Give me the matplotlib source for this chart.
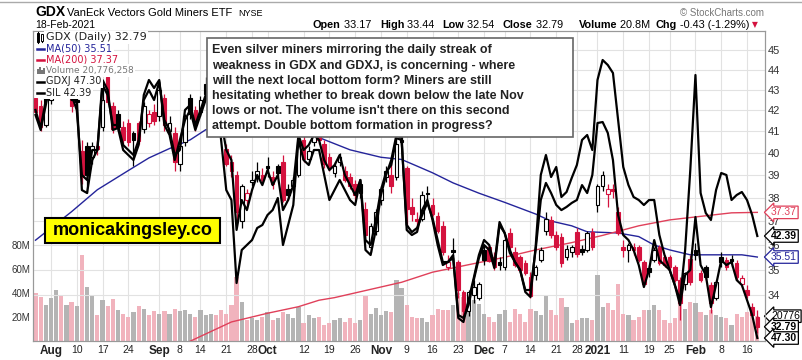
import numpy as np
import pandas as pd
import matplotlib
matplotlib.use("Agg")
import matplotlib.pyplot as plt
from matplotlib.lines import Line2D
from matplotlib.patches import Rectangle
from matplotlib.ticker import FixedLocator, NullLocator
from matplotlib.transforms import blended_transform_factory

plt.rcParams["font.family"] = ["Liberation Sans", "DejaVu Sans"]

W, H = 803, 360

# trading days shown on the chart
holidays = pd.to_datetime(["2020-09-07", "2020-11-26", "2020-12-25",
                           "2021-01-01", "2021-01-18", "2021-02-15"])
dates = pd.bdate_range("2020-07-29", "2021-02-18")
dates = dates[~dates.isin(holidays)]

# GDX daily candles
opens = [
    42.6, 42.2, 41.3, 42.5, 43.7, 45.2, 44.5, 44.6, 42.5, 40.1,
    40.3, 39.8, 40.3, 41.2, 43.6, 42.2, 41.8, 41.2, 41.4, 40.9,
    41.4, 41.1, 41.4, 41.9, 41.7, 42.6, 41.0, 40.9, 39.5, 40.5,
    42.6, 42.0, 41.9, 43.3, 42.9, 43.4, 42.3, 40.2, 39.6, 39.0,
    37.0, 37.9, 38.7, 38.9, 39.0, 39.4, 38.9, 39.4, 39.6, 38.4,
    38.5, 39.0, 40.6, 39.7, 40.5, 41.1, 40.4, 39.8, 39.1, 39.6,
    39.2, 38.9, 38.6, 38.2, 37.5, 35.9, 36.6, 37.9, 38.9, 39.0,
    38.9, 40.5, 39.3, 37.6, 37.1, 37.1, 38.2, 37.7, 37.2, 36.8,
    35.1, 35.8, 35.3, 34.1, 33.4, 34.0, 33.9, 35.8, 35.9, 35.5,
    35.3, 35.1, 36.5, 35.7, 35.5, 35.25, 34.7, 34.8, 35.4, 36.6,
    37.05, 36.4, 36.35, 35.5, 35.7, 36.55, 35.85, 35.8, 36.55, 37.7,
    38.5, 38.15, 38.4, 37.4, 35.9, 35.8, 35.9, 35.9, 35.3, 35.05,
    35.4, 35.9, 35.5, 35.5, 35.1, 34.6, 34.45, 35.45, 35.8, 34.85,
    35.1, 34.4, 33.9, 35.5, 35.4, 35.45, 35.25, 34.45, 34.2, 33.55,
    33.17]
highs = [
    42.8, 42.5, 42.8, 43.8, 45.3, 45.6, 45.4, 44.9, 42.9, 40.6,
    40.5, 40.5, 40.6, 43.5, 43.8, 42.4, 42.0, 41.5, 41.6, 41.0,
    41.5, 42.4, 42.0, 42.3, 43.2, 42.8, 41.7, 41.2, 40.5, 41.8,
    42.8, 42.2, 42.7, 43.6, 43.8, 43.6, 42.5, 40.4, 39.9, 39.2,
    38.6, 38.4, 39.2, 39.6, 39.3, 39.8, 39.2, 39.5, 39.9, 38.6,
    38.9, 40.8, 40.8, 40.3, 41.1, 41.4, 40.6, 40.0, 39.6, 40.0,
    39.4, 39.1, 38.8, 38.8, 37.8, 36.9, 37.5, 38.5, 39.4, 39.6,
    40.7, 41.0, 39.4, 38.0, 37.4, 38.3, 38.5, 38.0, 37.4, 37.0,
    35.6, 36.3, 35.4, 34.2, 34.2, 34.6, 34.5, 36.0, 36.0, 35.7,
    35.5, 36.3, 36.7, 35.9, 35.6, 35.4, 34.9, 35.2, 35.9, 37.4,
    37.2, 36.6, 36.5, 36.0, 36.0, 36.7, 36.0, 36.6, 36.7, 38.6,
    39.2, 38.6, 38.6, 37.6, 36.2, 36.1, 36.1, 36.0, 35.4, 35.2,
    35.9, 36.0, 35.6, 35.6, 35.2, 34.7, 34.9, 35.6, 36.1, 35.0,
    35.2, 34.5, 34.6, 35.7, 35.5, 35.6, 35.4, 34.8, 34.4, 33.7,
    33.44]
lows = [
    41.8, 41.0, 41.2, 42.3, 43.5, 44.3, 44.1, 41.9, 41.8, 38.6,
    38.2, 39.5, 39.9, 41.0, 42.3, 40.9, 41.0, 40.4, 40.3, 39.4,
    40.4, 40.9, 41.2, 41.3, 41.5, 41.0, 40.8, 39.2, 39.2, 40.3,
    41.6, 41.0, 41.7, 42.6, 42.7, 42.2, 40.8, 39.4, 38.9, 36.9,
    36.7, 37.5, 38.5, 38.7, 38.6, 38.9, 38.4, 38.9, 37.8, 37.9,
    38.2, 38.9, 39.6, 39.5, 40.3, 40.4, 39.3, 39.2, 38.9, 39.4,
    38.7, 38.4, 37.9, 38.0, 36.3, 35.7, 36.4, 37.7, 38.7, 38.2,
    38.8, 40.0, 36.8, 37.0, 36.6, 37.0, 37.7, 37.2, 36.5, 35.6,
    35.0, 35.4, 33.9, 33.2, 33.2, 33.7, 33.8, 35.2, 35.3, 35.0,
    35.0, 35.0, 35.8, 35.1, 34.9, 34.8, 33.9, 34.6, 35.3, 36.4,
    36.3, 35.8, 35.1, 35.4, 35.5, 35.5, 35.6, 35.7, 35.8, 37.4,
    38.3, 37.6, 38.0, 36.4, 35.5, 35.3, 35.6, 35.3, 34.4, 34.7,
    35.3, 35.2, 35.1, 35.0, 34.5, 33.05, 34.2, 34.4, 35.4, 34.5,
    34.6, 33.3, 33.8, 35.1, 35.0, 35.1, 34.6, 34.3, 33.9, 33.2,
    32.54]
closes = [
    41.9, 41.2, 42.6, 43.6, 45.0, 44.6, 45.1, 42.2, 42.4, 38.9,
    39.0, 40.3, 40.2, 42.5, 42.4, 41.1, 41.2, 40.6, 40.5, 40.6,
    40.55, 42.2, 41.8, 41.5, 43.0, 41.3, 41.4, 39.6, 40.3, 41.7,
    41.8, 41.3, 42.5, 42.8, 43.5, 42.5, 41.2, 39.5, 39.2, 37.4,
    38.5, 38.2, 38.8, 39.2, 38.8, 39.3, 38.6, 39.1, 37.9, 38.1,
    38.8, 40.5, 39.7, 40.1, 40.9, 40.6, 39.5, 39.3, 39.4, 39.8,
    38.8, 38.5, 38.1, 38.6, 36.4, 36.8, 37.4, 38.4, 39.2, 38.5,
    40.4, 40.6, 37.5, 37.3, 37.0, 38.1, 38.15, 37.3, 36.6, 35.7,
    35.3, 35.7, 34.2, 33.4, 34.1, 34.3, 34.45, 35.4, 35.35, 35.1,
    35.2, 36.2, 35.9, 35.2, 35.0, 34.85, 33.95, 35.1, 35.8, 37.1,
    36.4, 35.9, 35.25, 35.85, 35.9, 35.65, 35.7, 36.5, 35.9, 38.5,
    39.0, 38.4, 38.3, 36.5, 35.8, 36.0, 35.8, 35.4, 34.45, 34.9,
    35.8, 35.25, 35.2, 35.1, 34.6, 33.7, 34.85, 34.5, 35.6, 34.6,
    34.7, 33.7, 34.5, 35.3, 35.1, 35.35, 34.7, 34.65, 34.0, 33.22,
    32.79]

# volume in millions of shares
volume_m = [
    40, 37, 30, 36, 43, 38, 30, 33, 29, 72,
    45, 38, 22, 34, 29, 35, 26, 23, 20, 24.6,
    29, 27, 22, 25, 23, 25, 23, 27, 25, 26,
    23, 20, 26, 22, 23, 22, 26, 23, 30, 53.6,
    33, 17.6, 19, 17.6, 20, 24.6, 17.6, 19, 24.6, 23,
    19, 28.7, 14.8, 22, 19, 20, 13.4, 14.8, 17.6, 19,
    16, 19, 14.8, 17.6, 38.5, 23, 28, 22, 25, 24,
    51, 44, 30, 20, 19, 19, 16, 22, 27, 26,
    26, 30, 40, 37, 31, 34, 31, 23, 20, 16,
    23, 26, 16, 27, 23, 16, 27, 25, 22, 38,
    26, 22, 36, 28.7, 14.8, 17.6, 19, 19, 17.6, 55,
    28.7, 31.5, 26, 48, 23, 22, 17.6, 20, 26, 26,
    30, 26, 17.6, 14.8, 19, 37, 27, 33, 31.5, 24.6,
    22, 26, 22, 20, 19, 13.4, 23, 20, 24.6, 26,
    20.78]

# overlay closes
gdxj = [
    61.08, 59.99, 61.68, 63.19, 65.00, 64.70, 65.00, 61.68, 61.68, 56.24,
    56.06, 58.05, 58.66, 62.59, 61.98, 60.17, 60.17, 58.96, 58.66, 58.36,
    59.26, 61.68, 62.28, 61.68, 62.77, 60.47, 59.87, 58.36, 58.66, 61.08,
    61.38, 60.17, 61.08, 61.98, 63.49, 62.59, 60.47, 58.66, 58.05, 53.83,
    55.64, 55.03, 56.24, 57.15, 56.54, 57.45, 56.54, 57.15, 55.03, 55.64,
    56.54, 59.57, 58.66, 58.96, 59.57, 59.26, 58.05, 57.45, 57.75, 58.36,
    57.15, 56.54, 55.94, 56.85, 53.22, 52.92, 54.43, 56.24, 57.33, 57.75,
    59.38, 59.26, 54.13, 53.70, 53.95, 54.73, 55.46, 54.55, 53.22, 51.89,
    51.89, 52.31, 48.69, 48.51, 49.29, 50.80, 52.13, 52.92, 52.62, 51.53,
    54.13, 53.64, 52.62, 51.89, 51.41, 50.20, 50.20, 52.62, 55.64, 56.67,
    56.06, 55.34, 55.03, 55.22, 55.46, 55.64, 56.54, 56.06, 57.15, 60.29,
    60.35, 59.69, 58.05, 54.73, 53.52, 53.22, 52.62, 51.71, 50.38, 51.41,
    53.22, 52.01, 51.71, 51.41, 50.50, 49.29, 51.11, 51.41, 54.61, 51.71,
    51.11, 49.17, 50.50, 52.01, 51.71, 51.89, 50.80, 50.50, 49.60, 48.69,
    47.30]
sil = [
    48.44, 47.69, 48.94, 50.19, 51.69, 52.19, 52.44, 49.44, 48.69, 45.44,
    45.19, 46.69, 46.69, 50.19, 49.69, 47.69, 47.79, 46.69, 46.44, 46.19,
    46.94, 49.44, 50.19, 49.79, 50.19, 47.94, 47.44, 46.19, 47.19, 48.19,
    48.69, 47.69, 48.44, 49.19, 50.44, 49.69, 47.19, 44.69, 44.19, 40.04,
    41.69, 41.94, 42.19, 42.79, 42.94, 43.44, 43.69, 44.29, 41.94, 42.94,
    43.94, 47.19, 46.19, 45.94, 46.69, 46.69, 45.44, 44.19, 44.69, 45.19,
    44.69, 44.19, 43.94, 45.19, 41.69, 41.44, 42.69, 44.44, 45.44, 46.19,
    47.44, 47.29, 42.69, 42.44, 42.59, 43.69, 44.19, 43.19, 41.94, 40.94,
    41.09, 41.29, 38.29, 38.09, 39.19, 40.29, 41.44, 42.19, 41.94, 40.94,
    43.09, 42.54, 41.54, 41.09, 40.69, 39.59, 39.34, 41.84, 45.44, 46.44,
    45.34, 45.84, 44.34, 44.59, 45.29, 45.94, 47.19, 47.44, 46.69, 50.19,
    51.19, 50.94, 50.54, 48.19, 45.84, 44.94, 44.34, 44.19, 43.94, 44.19,
    44.19, 42.44, 41.44, 40.69, 39.94, 39.19, 41.69, 45.69, 50.44, 44.54,
    43.54, 43.19, 44.69, 45.54, 45.44, 44.19, 44.44, 44.59, 44.19, 43.44,
    42.39]

# moving averages, read at a subset of bars
ma50_bar = [0, 7, 12, 18, 22, 26, 30, 33, 38, 44, 50, 54, 61, 67, 71, 74,
            77, 81, 86, 91, 97, 100, 104, 107, 113, 117, 120, 123, 127, 133, 137, 140]
ma50_val = [36.2, 37.4, 38.35, 39.2, 39.77, 40.2, 40.6, 41.07, 41.4, 41.5, 41.3,
            40.8, 40.14, 39.8, 39.7, 39.4, 39.1, 38.65, 38.2, 37.8, 37.3, 37.0,
            36.8, 36.55, 36.5, 36.35, 36.0, 35.8, 35.6, 35.6, 35.6, 35.51]
ma200_bar = [26, 38, 45, 51, 55, 58, 71, 77, 84, 91, 97, 104, 110, 117, 123, 129, 135, 140]
ma200_val = [31.9, 32.97, 33.3, 33.55, 33.8, 33.9, 34.5, 34.9, 35.2, 35.5, 35.8,
             36.1, 36.4, 36.8, 37.05, 37.2, 37.35, 37.37]

tick_dates = ["2020-08-03", "2020-08-10", "2020-08-17", "2020-08-24", "2020-09-01",
              "2020-09-08", "2020-09-14", "2020-09-21", "2020-09-28", "2020-10-01",
              "2020-10-12", "2020-10-19", "2020-10-26", "2020-11-02", "2020-11-09",
              "2020-11-16", "2020-11-23", "2020-12-01", "2020-12-07", "2020-12-14",
              "2020-12-21", "2020-12-28", "2021-01-04", "2021-01-11", "2021-01-19",
              "2021-01-25", "2021-02-01", "2021-02-08", "2021-02-16"]
tick_labels = ["Aug", "10", "17", "24", "Sep", "8", "14", "21", "28", "Oct", "12", "19",
               "26", "Nov", "9", "16", "23", "Dec", "7", "14", "21", "28", "2021", "11",
               "19", "25", "Feb", "8", "16"]
month_labels = ["Aug", "Sep", "Oct", "Nov", "Dec", "2021", "Feb"]
price_ticks = list(range(34, 46))
volume_ticks = [20, 40, 60, 80]

note_lines = ["Even silver miners mirroring the daily streak of",
              "weakness in GDX and GDXJ, is concerning - where",
              "will the next local bottom form? Miners are still",
              "hesitating whether to break down below the late Nov",
              "lows or not. The volume isn't there on this second",
              "attempt. Double bottom formation in progress?"]

RED = "#d4123e"
NAVY = "#24249a"
MA_RED = "#e0405a"
PINK = "#f1b3bd"
GRAY = "#b4b4b4"
GRID = "#e2e2e2"


def fx(px):
    return px / W


def fy(py):
    return 1 - py / H


fig = plt.figure(figsize=(W / 100, H / 100), dpi=100)
fig.patch.set_facecolor("white")

ax_vol = fig.add_axes([fx(33), fy(341), fx(765) - fx(33), fy(31) - fy(341)])
ax = ax_vol.twinx()
ax_j = ax.twinx()
ax_s = ax.twinx()

n = len(closes)
x = np.arange(n)
o = np.array(opens)
h = np.array(highs)
lo = np.array(lows)
c = np.array(closes)
prev = np.r_[o[0], c[:-1]]
down = c < prev
col = [RED if d else "black" for d in down]
face = ["white" if c[i] >= o[i] else col[i] for i in range(n)]

# volume
ax_vol.bar(x, volume_m, width=0.82, color=[PINK if d else GRAY for d in down], zorder=1)
ax_vol.set_ylim(0, 259.5)
ax_vol.set_xlim(-0.485, 141.49)
ax_vol.yaxis.tick_left()
ax_vol.yaxis.set_major_locator(FixedLocator(volume_ticks))
ax_vol.set_yticklabels([f"{v}M" for v in volume_ticks])
ax_vol.tick_params(axis="y", length=0, pad=2, labelsize=7, labelcolor="#333333")

tick_idx = [dates.get_loc(pd.Timestamp(d)) for d in tick_dates]
ax_vol.set_xticks(tick_idx)
ax_vol.set_xticklabels(tick_labels)
ax_vol.tick_params(axis="x", length=0, pad=3, labelsize=7.5, labelcolor="#222222")
for t in ax_vol.get_xticklabels():
    if t.get_text() in month_labels:
        t.set_fontweight("bold")
        t.set_fontsize(8.5)
ax_vol.grid(axis="x", color=GRID, lw=0.8, zorder=0)
ax_vol.set_axisbelow(True)

# price
ax.set_yscale("log")
ax.set_ylim(32.26, 45.98)
ax.yaxis.set_major_locator(FixedLocator(price_ticks))
ax.yaxis.set_minor_locator(NullLocator())
ax.set_yticklabels([str(p) for p in price_ticks])
ax.yaxis.tick_right()
ax.tick_params(axis="y", which="both", left=False, labelleft=False, right=False, labelright=True,
               length=0, pad=2, labelsize=8, labelcolor="#333333")
ax.grid(axis="y", color=GRID, lw=0.8, zorder=0)

ax.plot(ma50_bar, ma50_val, color=NAVY, lw=1.0, zorder=2)
ax.plot(ma200_bar, ma200_val, color=MA_RED, lw=1.0, zorder=2)
ax.vlines(x, lo, h, colors=col, lw=0.9, zorder=3)
ax.bar(x, np.maximum(np.abs(c - o), 0.04), bottom=np.minimum(o, c), width=0.7,
       color=face, edgecolor=col, linewidth=0.8, zorder=4)

for spine_ax in (ax_vol, ax):
    for s in spine_ax.spines.values():
        s.set_color("#999999")
        s.set_linewidth(0.8)

# overlays on their own scales
ax_j.set_ylim(47.12, 65.85)
ax_s.set_ylim(37.14, 52.64)
ax_j.plot(x, gdxj, color="black", lw=1.6, zorder=5)
ax_s.plot(x, sil, color="black", lw=1.6, zorder=5)
for a in (ax_j, ax_s):
    a.axis("off")
    a.set_xlim(-0.485, 141.49)


# right-edge value tags
def tag(axis, val, text, ec, tc, bold=False, z=20):
    tr = blended_transform_factory(fig.transFigure, axis.transData)
    axis.text(fx(771), val, text, transform=tr, ha="left", va="center", fontsize=7.5,
              color=tc, fontweight="bold" if bold else "normal", zorder=z, clip_on=False,
              bbox=dict(boxstyle="larrow,pad=0.12", fc="white", ec=ec, lw=0.9))


tag(ax, 37.37, "37.37", MA_RED, MA_RED)
tag(ax_s, sil[-1], f"{sil[-1]:.2f}", "black", "black", bold=True)
tag(ax, 35.51, "35.51", NAVY, NAVY)
tag(ax_vol, volume_m[-1], "20776", "black", "black")
tag(ax_j, gdxj[-1], f"{gdxj[-1]:.2f}", "black", "black", bold=True, z=19)
tag(ax, closes[-1], f"{closes[-1]:.2f}", "black", "black", bold=True, z=21)

# header
renderer = fig.canvas.get_renderer()
fig.add_artist(Line2D([0, 1], [fy(1.5), fy(1.5)], transform=fig.transFigure, color="#aaaaaa", lw=1))
fig.text(fx(35), fy(12.5), "GDX", fontsize=10, fontweight="bold", va="center")
t_name = fig.text(fx(67), fy(12.5), "VanEck Vectors Gold Miners ETF", fontsize=8, va="center")
name_end = t_name.get_window_extent(renderer=renderer).x1
fig.text(fx(name_end + 6), fy(13), "NYSE", fontsize=6.5, va="center")
fig.text(fx(35), fy(25), "18-Feb-2021", fontsize=7.5, va="center")
fig.text(fx(764), fy(12.5), "© StockCharts.com", fontsize=7, color="#777777", ha="right", va="center")

quote = [(313, "Open", " 33.17"), (380, "High", " 33.44"), (442, "Low", " 32.54"),
         (503, "Close", " 32.79"), (579, "Volume", " 20.8M"), (656, "Chg", " -0.43 (-1.29%)")]
qx = 0
for qx, lab, val in quote:
    t = fig.text(fx(qx), fy(25), lab, fontsize=7.8, fontweight="bold", va="center")
    qx = t.get_window_extent(renderer=renderer).x1
    t = fig.text(fx(qx), fy(25), val, fontsize=7.8, va="center")
    qx = t.get_window_extent(renderer=renderer).x1
fig.text(fx(qx + 2), fy(25), "▼", fontsize=5.5, color=RED, va="center", family="DejaVu Sans")

# legend
leg = [("GDX (Daily) 32.79", "#222222", 8), ("MA(50) 35.51", NAVY, 7),
       ("MA(200) 37.37", RED, 7), ("Volume 20,776,258", "#777777", 6.5),
       ("GDXJ 47.30", "#222222", 7), ("SIL 42.39", "#222222", 7)]
for k, (s, tc, fs) in enumerate(leg):
    yy = 37.5 + 11 * k
    fig.add_artist(Rectangle((fx(35), fy(yy + 5.5)), fx(10), 11 / H, transform=fig.transFigure,
                             fc="white", ec="none", zorder=5))
    fig.text(fx(46), fy(yy), s, fontsize=fs, color=tc, va="center", family="DejaVu Sans", zorder=6,
             bbox=dict(fc="white", ec="none", pad=1.2))
    if k in (1, 2, 4, 5):
        lc = [None, NAVY, RED, None, "black", "black"][k]
        fig.add_artist(Line2D([fx(37), fx(44)], [fy(yy), fy(yy)], transform=fig.transFigure,
                              color=lc, lw=1.8, zorder=7))
    elif k == 0:
        for dx, y0, y1, fc in ((38, 33, 42, "black"), (42, 34.5, 40.5, "white")):
            fig.add_artist(Line2D([fx(dx), fx(dx)], [fy(y0 - 1), fy(y1 + 1)], transform=fig.transFigure,
                                  color="black", lw=0.8, zorder=7))
            fig.add_artist(Rectangle((fx(dx - 1.3), fy(y1)), fx(2.6), (y1 - y0) / H,
                                     transform=fig.transFigure, fc=fc, ec="black", lw=0.7, zorder=8))
    else:
        for dx, hh in ((37.5, 5), (39.5, 7), (41.5, 4), (43.5, 6)):
            fig.add_artist(Rectangle((fx(dx), fy(yy + 3.5)), fx(1.4), hh / H,
                                     transform=fig.transFigure, fc="#777777", ec="none", zorder=7))

# commentary box
fig.add_artist(Rectangle((fx(207), fy(137)), fx(573) - fx(207), (137 - 38) / H,
                         transform=fig.transFigure, fc="white", ec="#666666", lw=1.2, zorder=10))
for k, s in enumerate(note_lines):
    fig.text(fx(212), fy(50.5 + 15 * k), s, fontsize=9, fontweight="bold", color="#222222",
             va="center", zorder=11)

# watermark
fig.add_artist(Rectangle((fx(45), fy(243)), fx(220) - fx(45), 25 / H, transform=fig.transFigure,
                         fc="#ffff00", ec="black", lw=1.5, zorder=10))
fig.text(fx(132.5), fy(230.5), "monicakingsley.co", fontsize=13, fontweight="bold", color="black",
         ha="center", va="center", zorder=11)

fig.savefig("out.png", dpi=100)
